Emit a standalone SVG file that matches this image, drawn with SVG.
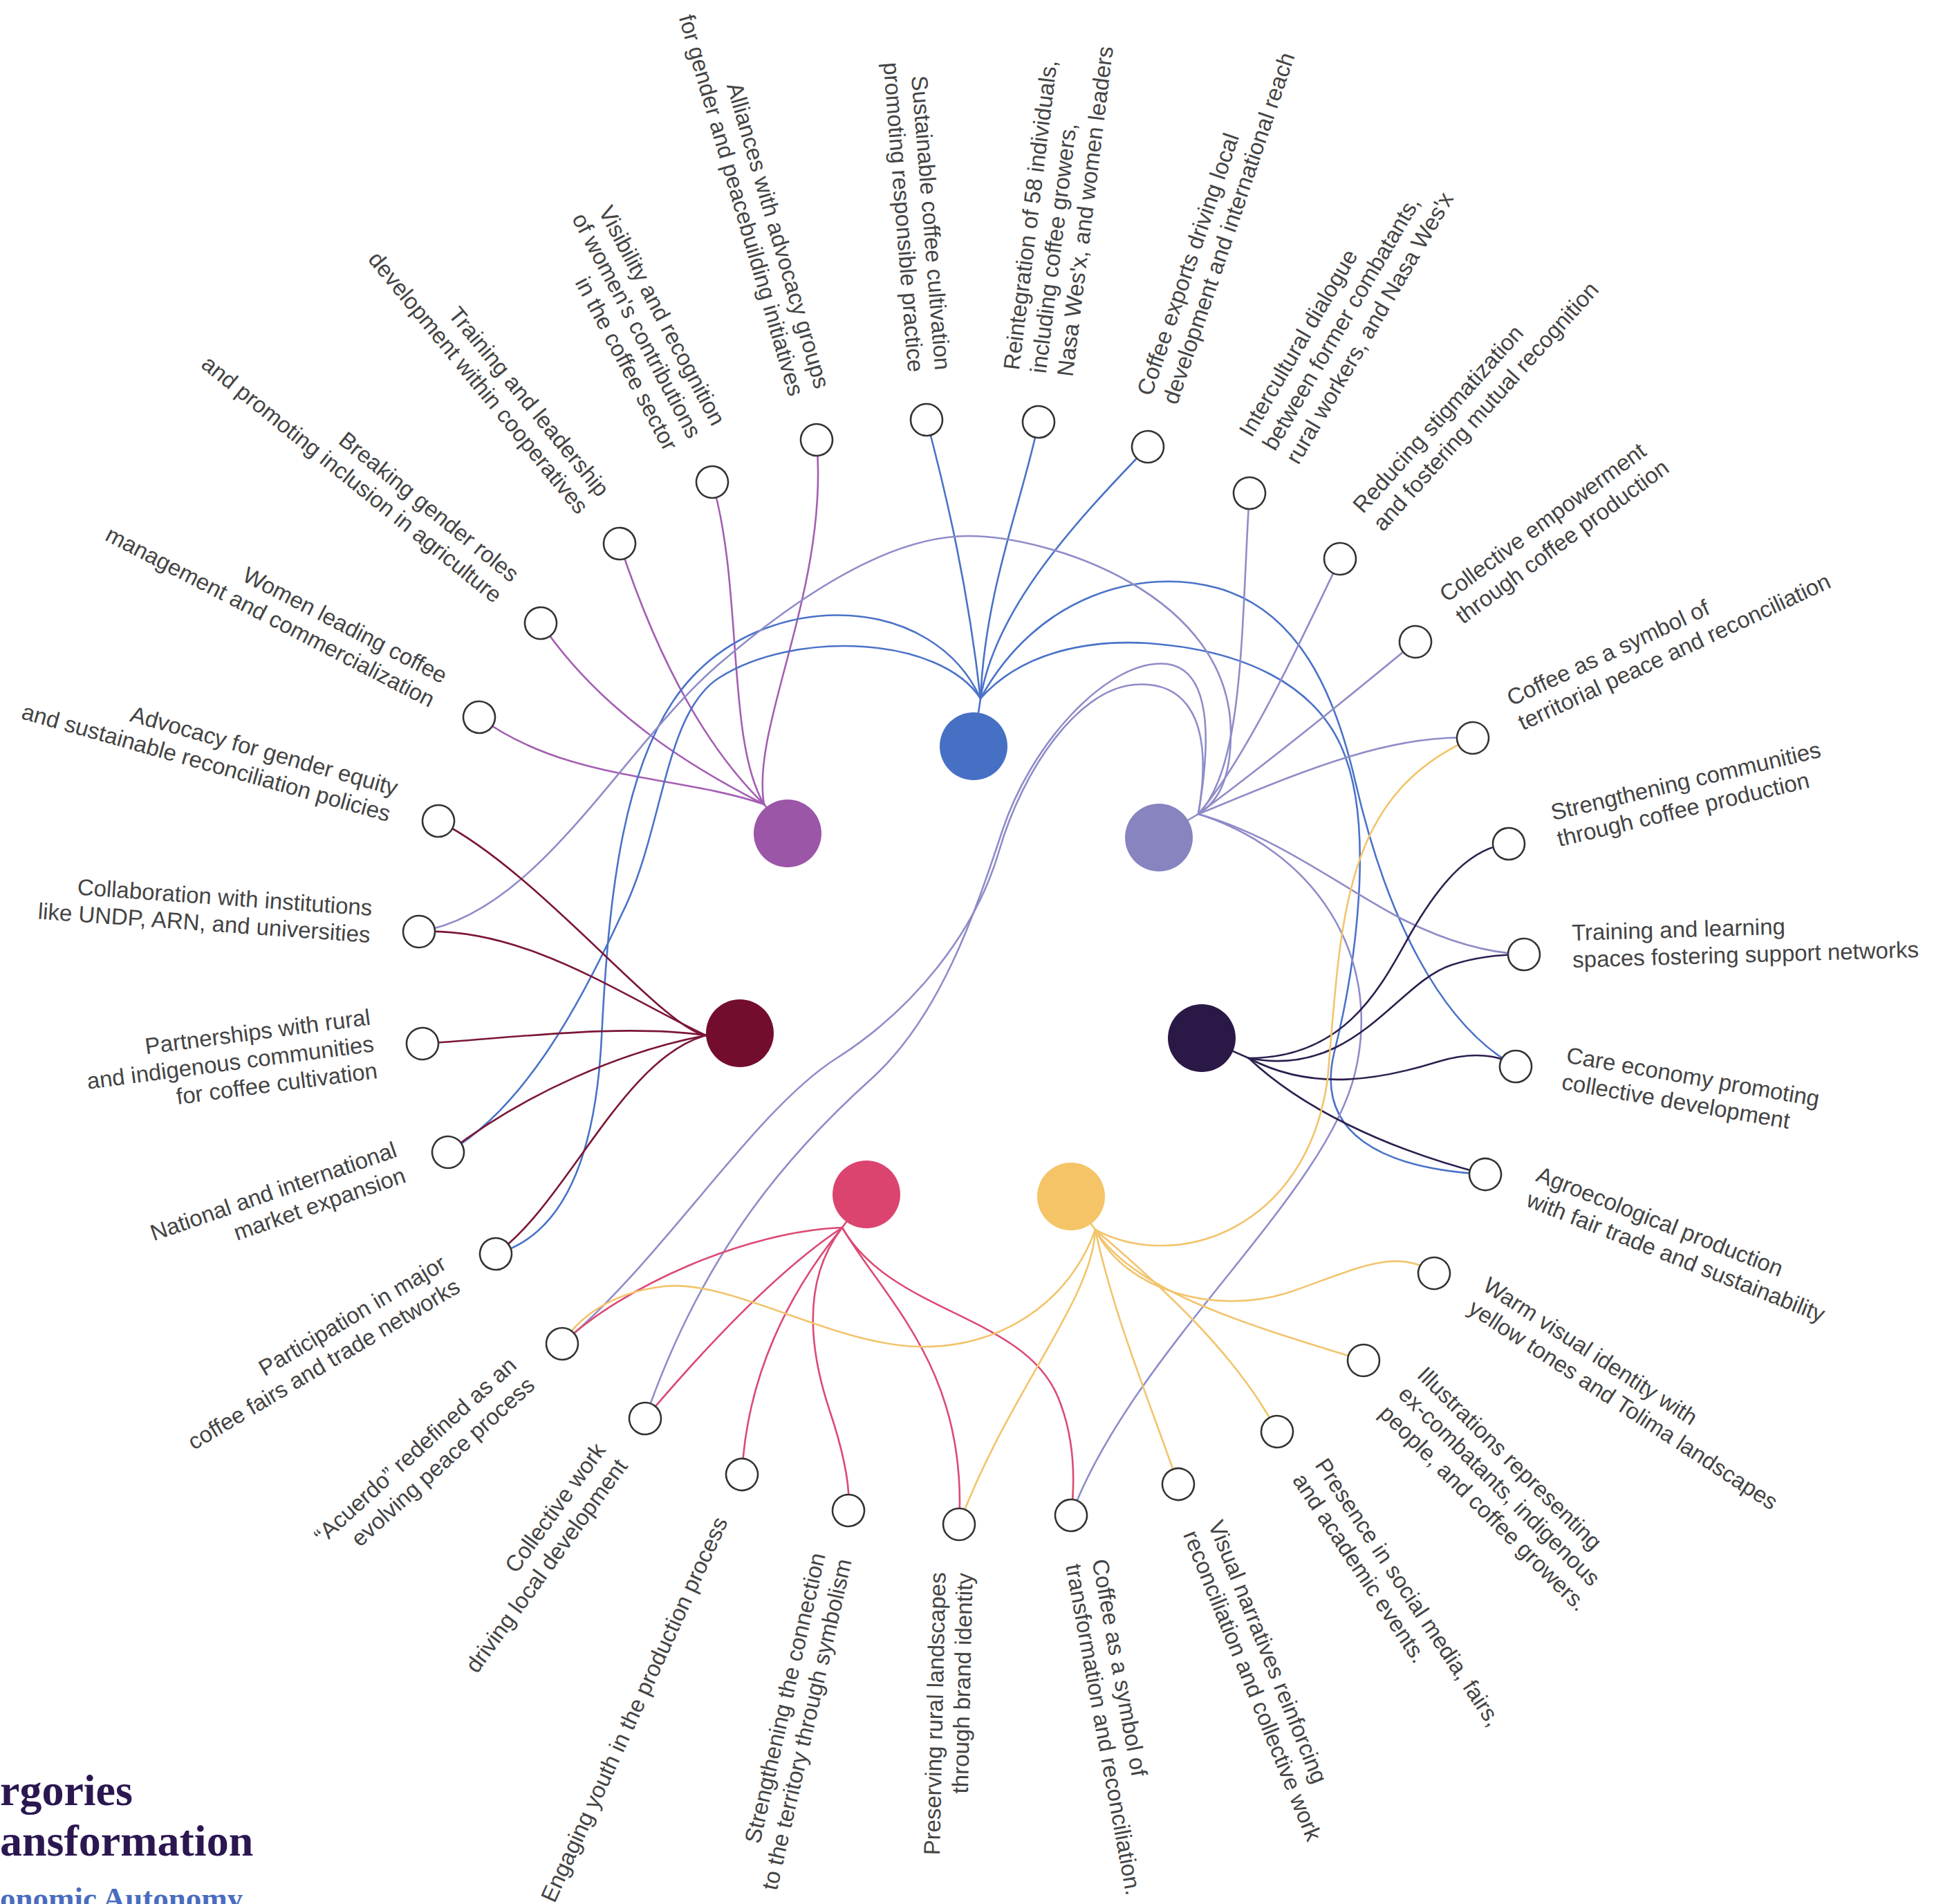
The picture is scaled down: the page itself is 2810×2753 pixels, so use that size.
<svg xmlns="http://www.w3.org/2000/svg" width="2810" height="2753" viewBox="0 0 2810 2753">
<style>
.c path{fill:none;stroke-width:2.6;stroke-linecap:round}
.pu path{stroke:#a35fb2}
.bl path{stroke:#4a72c8}
.la path{stroke:#8f8cc8}
.ma path{stroke:#7b1636}
.na path{stroke:#2d1f4f}
.pk path{stroke:#db4a74}
.ye path{stroke:#f2c46c}
.nd circle{fill:#fff;stroke:#333;stroke-width:2.6}
.nd text{font-family:"Liberation Sans",Arial,sans-serif;font-size:33px;fill:#444}
.R text{text-anchor:start}
.L text{text-anchor:end}
.lg{font-family:"Liberation Serif","Times New Roman",serif;font-weight:bold}
</style>
<rect width="2810" height="2753" fill="#fff"/>
<g id="connectors" class="c">
<g class="pu">
<path d="M1105,1163 L1139,1205"/>
<path d="M1105,1163 C1085,1050 1200,850 1181,636"/>
<path d="M1105,1163 C1050,1070 1075,850 1030,697"/>
<path d="M1105,1163 C1020,1080 950,950 896,786"/>
<path d="M1105,1163 C1000,1110 870,1030 782,901"/>
<path d="M1105,1163 C980,1120 820,1130 693,1037"/>
</g>
<g class="bl">
<path d="M1418,1010 L1408,1079"/>
<path d="M1418,1010 C1400,850 1370,720 1340,607"/>
<path d="M1418,1010 C1425,850 1480,720 1502,610"/>
<path d="M1418,1010 C1440,880 1550,760 1660,646"/>
<path d="M1418,1010 C1350,860 1120,850 1000,980 C900,1088 880,1300 870,1500 C860,1700 800,1790 717,1813"/>
<path d="M1418,1010 C1360,920 1150,910 1040,980 C960,1031 960,1200 900,1320 C840,1450 760,1600 648,1666"/>
<path d="M1418,1010 C1500,860 1650,820 1760,850 C1877,882 1930,1000 1960,1130 C2004,1320 2080,1480 2192,1542" stroke-width="2.1"/>
<path d="M1418,1010 C1480,940 1580,925 1660,930 C1800,940 1900,990 1940,1080 C1990,1192 1960,1400 1930,1520 C1900,1640 2000,1690 2148,1698" stroke-width="2.1"/>
</g>
<g class="la">
<path d="M1733,1177 L1676,1211"/>
<path d="M1733,1177 C1800,1110 1795,900 1807,713"/>
<path d="M1733,1177 C1800,1100 1880,930 1938,808"/>
<path d="M1733,1177 C1850,1090 1960,1000 2047,928"/>
<path d="M1733,1177 C1850,1130 2000,1060 2130,1067"/>
<path d="M1733,1177 C1850,1210 1950,1290 2030,1330 C2100,1365 2160,1378 2204,1380"/>
<path d="M1733,1177 C1900,1230 2000,1380 1960,1550 C1918,1730 1640,1950 1549,2191"/>
<path d="M1733,1177 C1765,990 1720,955 1670,960 C1590,968 1490,1080 1450,1200 C1410,1320 1360,1470 1260,1560 C1150,1659 1020,1800 933,2051"/>
<path d="M1733,1177 C1760,1020 1700,985 1640,990 C1560,997 1480,1110 1445,1230 C1410,1350 1320,1460 1210,1530 C1090,1606 960,1820 813,1943"/>
<path d="M606,1347 C780,1320 900,1080 1040,960 C1160,857 1290,775 1400,775 C1520,775 1780,860 1780,1060 C1780,1130 1760,1160 1733,1177" stroke-width="3.3"/>
</g>
<g class="ma">
<path d="M1021,1497 L1070,1493"/>
<path d="M1021,1497 C960,1490 780,1260 634,1187"/>
<path d="M1021,1497 C900,1440 760,1340 606,1347"/>
<path d="M1021,1497 C900,1480 750,1500 611,1509"/>
<path d="M1021,1497 C900,1520 760,1580 648,1666"/>
<path d="M1021,1497 C900,1530 820,1740 717,1813"/>
</g>
<g class="na">
<path d="M1806,1530 L1738,1500"/>
<path d="M1806,1530 C1950,1530 2000,1420 2040,1350 C2086,1270 2130,1225 2182,1220"/>
<path d="M1806,1530 C1960,1560 2020,1420 2100,1395 C2140,1382 2180,1380 2204,1380"/>
<path d="M1806,1530 C1900,1580 2000,1560 2080,1535 C2130,1520 2170,1525 2192,1542"/>
<path d="M1806,1530 C1880,1600 2000,1660 2148,1698" stroke-width="3.8"/>
</g>
<g class="pk">
<path d="M1218,1775 L1253,1727"/>
<path d="M1218,1775 C1080,1780 900,1860 813,1943"/>
<path d="M1218,1775 C1120,1840 1010,1960 933,2051"/>
<path d="M1218,1775 C1140,1870 1080,1990 1073,2132"/>
<path d="M1218,1775 C1160,1850 1170,1950 1200,2040 C1220,2100 1230,2150 1227,2184"/>
<path d="M1218,1775 C1280,1880 1400,1980 1387,2204"/>
<path d="M1218,1775 C1290,1900 1480,1900 1530,2020 C1555,2080 1555,2140 1549,2191"/>
</g>
<g class="ye">
<path d="M1584,1778 L1549,1730"/>
<path d="M1584,1778 C1700,1840 1890,1780 1920,1560 C1940,1330 1940,1150 2130,1067" stroke-width="3.3"/>
<path d="M1584,1778 C1630,1870 1760,1900 1860,1870 C1950,1840 2020,1800 2074,1841"/>
<path d="M1584,1778 C1640,1870 1820,1920 1972,1967" stroke-width="3.3"/>
<path d="M1584,1778 C1680,1860 1790,1960 1847,2070"/>
<path d="M1584,1778 C1610,1900 1660,2020 1704,2146"/>
<path d="M1584,1778 C1580,1880 1460,2010 1387,2204"/>
<path d="M1584,1778 C1540,1900 1420,1960 1300,1945 C1180,1930 1050,1850 960,1860 C890,1868 840,1900 813,1943" stroke-width="2"/>
</g>
</g>
<g id="hub-blue"><circle cx="1408" cy="1079" r="49" fill="#4670c4"/></g>
<g id="hub-purple"><circle cx="1139" cy="1205" r="49" fill="#9b56a8"/></g>
<g id="hub-lavender"><circle cx="1676" cy="1211" r="49" fill="#8784c0"/></g>
<g id="hub-maroon"><circle cx="1070" cy="1494" r="49" fill="#730d2e"/></g>
<g id="hub-navy"><circle cx="1738" cy="1501" r="49" fill="#2a1846"/></g>
<g id="hub-pink"><circle cx="1253" cy="1727" r="49" fill="#dc4470"/></g>
<g id="hub-yellow"><circle cx="1549" cy="1730" r="49" fill="#f4c466"/></g>
<g id="node-1" class="nd L" transform="translate(1340,607) rotate(85.4)"><circle r="23"/><text><tspan x="-70" y="-18">Sustainable coffee cultivation</tspan><tspan x="-70" y="21">promoting responsible practice</tspan></text></g>
<g id="node-2" class="nd R" transform="translate(1502,610) rotate(-82.99)"><circle r="23"/><text><tspan x="70" y="-37">Reintegration of 58 individuals,</tspan><tspan x="70" y="2">including coffee growers,</tspan><tspan x="70" y="41">Nasa Wes'x, and women leaders</tspan></text></g>
<g id="node-3" class="nd R" transform="translate(1660,646) rotate(-71.37)"><circle r="23"/><text><tspan x="70" y="-18">Coffee exports driving local</tspan><tspan x="70" y="21">development and international reach</tspan></text></g>
<g id="node-4" class="nd R" transform="translate(1807,713) rotate(-59.76)"><circle r="23"/><text><tspan x="70" y="-37">Intercultural dialogue</tspan><tspan x="70" y="2">between former combatants,</tspan><tspan x="70" y="41">rural workers, and Nasa Wes'x</tspan></text></g>
<g id="node-5" class="nd R" transform="translate(1938,808) rotate(-48.15)"><circle r="23"/><text><tspan x="70" y="-18">Reducing stigmatization</tspan><tspan x="70" y="21">and fostering mutual recognition</tspan></text></g>
<g id="node-6" class="nd R" transform="translate(2047,928) rotate(-36.54)"><circle r="23"/><text><tspan x="70" y="-18">Collective empowerment</tspan><tspan x="70" y="21">through coffee production</tspan></text></g>
<g id="node-7" class="nd R" transform="translate(2130,1067) rotate(-24.92)"><circle r="23"/><text><tspan x="70" y="-18">Coffee as a symbol of</tspan><tspan x="70" y="21">territorial peace and reconciliation</tspan></text></g>
<g id="node-8" class="nd R" transform="translate(2182,1220) rotate(-13.31)"><circle r="23"/><text><tspan x="70" y="-18">Strengthening communities</tspan><tspan x="70" y="21">through coffee production</tspan></text></g>
<g id="node-9" class="nd R" transform="translate(2204,1380) rotate(-1.7)"><circle r="23"/><text><tspan x="70" y="-18">Training and learning</tspan><tspan x="70" y="21">spaces fostering support networks</tspan></text></g>
<g id="node-10" class="nd R" transform="translate(2192,1542) rotate(9.91)"><circle r="23"/><text><tspan x="70" y="-18">Care economy promoting</tspan><tspan x="70" y="21">collective development</tspan></text></g>
<g id="node-11" class="nd R" transform="translate(2148,1698) rotate(21.53)"><circle r="23"/><text><tspan x="70" y="-18">Agroecological production</tspan><tspan x="70" y="21">with fair trade and sustainability</tspan></text></g>
<g id="node-12" class="nd R" transform="translate(2074,1841) rotate(33.14)"><circle r="23"/><text><tspan x="70" y="-18">Warm visual identity with</tspan><tspan x="70" y="21">yellow tones and Tolima landscapes</tspan></text></g>
<g id="node-13" class="nd R" transform="translate(1972,1967) rotate(44.75)"><circle r="23"/><text><tspan x="70" y="-37">Illustrations representing</tspan><tspan x="70" y="2">ex-combatants, indigenous</tspan><tspan x="70" y="41">people, and coffee growers.</tspan></text></g>
<g id="node-14" class="nd R" transform="translate(1847,2070) rotate(56.36)"><circle r="23"/><text><tspan x="70" y="-18">Presence in social media, fairs,</tspan><tspan x="70" y="21">and academic events.</tspan></text></g>
<g id="node-15" class="nd R" transform="translate(1704,2146) rotate(67.98)"><circle r="23"/><text><tspan x="70" y="-18">Visual narratives reinforcing</tspan><tspan x="70" y="21">reconciliation and collective work</tspan></text></g>
<g id="node-16" class="nd R" transform="translate(1549,2191) rotate(79.59)"><circle r="23"/><text><tspan x="70" y="-18">Coffee as a symbol of</tspan><tspan x="70" y="21">transformation and reconciliation.</tspan></text></g>
<g id="node-17" class="nd L" transform="translate(1387,2204) rotate(-88.8)"><circle r="23"/><text><tspan x="-70" y="-18">Preserving rural landscapes</tspan><tspan x="-70" y="21">through brand identity</tspan></text></g>
<g id="node-18" class="nd L" transform="translate(1227,2184) rotate(-77.19)"><circle r="23"/><text><tspan x="-70" y="-18">Strengthening the connection</tspan><tspan x="-70" y="21">to the territory through symbolism</tspan></text></g>
<g id="node-19" class="nd L" transform="translate(1073,2132) rotate(-65.57)"><circle r="23"/><text><tspan x="-70" y="10">Engaging youth in the production process</tspan></text></g>
<g id="node-20" class="nd L" transform="translate(933,2051) rotate(-53.96)"><circle r="23"/><text><tspan x="-70" y="-18">Collective work</tspan><tspan x="-70" y="21">driving local development</tspan></text></g>
<g id="node-21" class="nd L" transform="translate(813,1943) rotate(-42.35)"><circle r="23"/><text><tspan x="-70" y="-18">“Acuerdo” redefined as an</tspan><tspan x="-70" y="21">evolving peace process</tspan></text></g>
<g id="node-22" class="nd L" transform="translate(717,1813) rotate(-30.74)"><circle r="23"/><text><tspan x="-70" y="-18">Participation in major</tspan><tspan x="-70" y="21">coffee fairs and trade networks</tspan></text></g>
<g id="node-23" class="nd L" transform="translate(648,1666) rotate(-19.12)"><circle r="23"/><text><tspan x="-70" y="-18">National and international</tspan><tspan x="-70" y="21">market expansion</tspan></text></g>
<g id="node-24" class="nd L" transform="translate(611,1509) rotate(-7.51)"><circle r="23"/><text><tspan x="-70" y="-37">Partnerships with rural</tspan><tspan x="-70" y="2">and indigenous communities</tspan><tspan x="-70" y="41">for coffee cultivation</tspan></text></g>
<g id="node-25" class="nd L" transform="translate(606,1347) rotate(4.1)"><circle r="23"/><text><tspan x="-70" y="-18">Collaboration with institutions</tspan><tspan x="-70" y="21">like UNDP, ARN, and universities</tspan></text></g>
<g id="node-26" class="nd L" transform="translate(634,1187) rotate(15.71)"><circle r="23"/><text><tspan x="-70" y="-18">Advocacy for gender equity</tspan><tspan x="-70" y="21">and sustainable reconciliation policies</tspan></text></g>
<g id="node-27" class="nd L" transform="translate(693,1037) rotate(27.33)"><circle r="23"/><text><tspan x="-70" y="-18">Women leading coffee</tspan><tspan x="-70" y="21">management and commercialization</tspan></text></g>
<g id="node-28" class="nd L" transform="translate(782,901) rotate(38.94)"><circle r="23"/><text><tspan x="-70" y="-18">Breaking gender roles</tspan><tspan x="-70" y="21">and promoting inclusion in agriculture</tspan></text></g>
<g id="node-29" class="nd L" transform="translate(896,786) rotate(50.55)"><circle r="23"/><text><tspan x="-70" y="-18">Training and leadership</tspan><tspan x="-70" y="21">development within cooperatives</tspan></text></g>
<g id="node-30" class="nd L" transform="translate(1030,697) rotate(62.16)"><circle r="23"/><text><tspan x="-70" y="-37">Visibility and recognition</tspan><tspan x="-70" y="2">of women's contributions</tspan><tspan x="-70" y="41">in the coffee sector</tspan></text></g>
<g id="node-31" class="nd L" transform="translate(1181,636) rotate(73.78)"><circle r="23"/><text><tspan x="-70" y="-18">Alliances with advocacy groups</tspan><tspan x="-70" y="21">for gender and peacebuilding initiatives</tspan></text></g>
<g id="legend">
<text class="lg" x="0" y="2610" font-size="64" fill="#2b1750">rgories</text>
<text class="lg" x="0" y="2683" font-size="64" fill="#2b1750">ansformation</text>
<text class="lg" x="0" y="2760" font-size="45" fill="#4a6cc0">onomic Autonomy</text>
</g>
</svg>
